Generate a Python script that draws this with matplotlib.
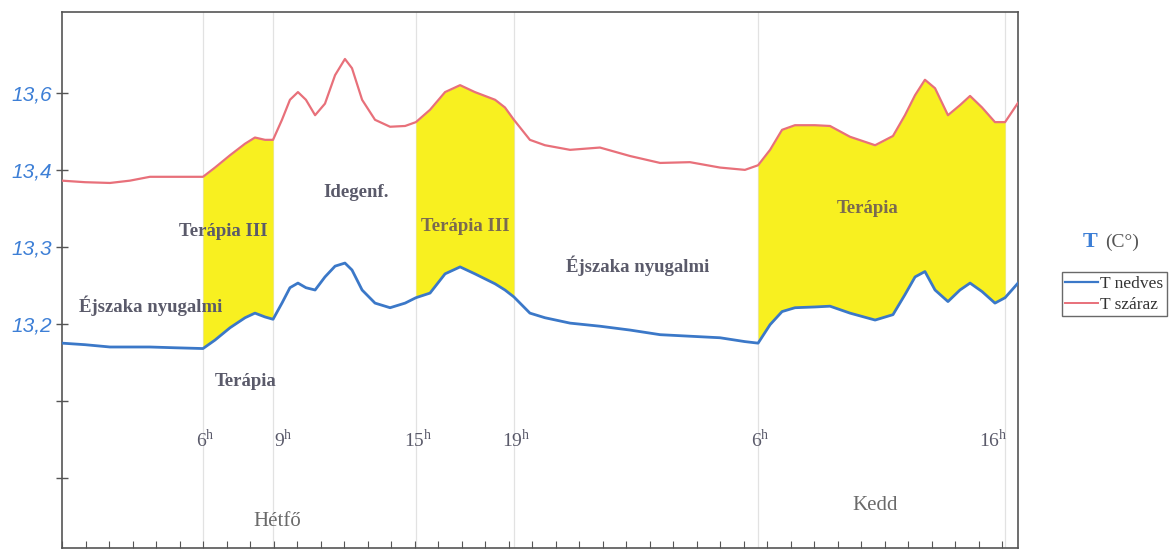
import matplotlib
matplotlib.use('Agg')
import matplotlib.pyplot as plt
import numpy as np

plt.rcParams['font.family'] = ['Liberation Serif', 'DejaVu Serif']

# idő (óra, hétfő 0h-tól) és a két hőmérséklet
ora = [0.0, 0.98, 2.04, 2.89, 3.74, 4.81, 6.0, 6.51, 7.15, 7.79, 8.21, 8.64, 8.98,
       9.36, 9.70, 10.04, 10.38, 10.77, 11.19, 11.62, 12.04, 12.34, 12.77, 13.32,
       13.96, 14.60, 15.06, 15.66, 16.30, 16.94, 17.57, 18.43, 18.85, 19.23, 19.91,
       20.55, 21.62, 22.89, 24.17, 25.45, 26.72, 28.0, 29.06, 29.62, 30.13, 30.64,
       31.19, 32.04, 32.68, 33.53, 34.60, 35.36, 35.87, 36.30, 36.72, 37.15, 37.70,
       38.21, 38.64, 39.15, 39.70, 40.13, 40.68]
t_szaraz = [13.386, 13.384, 13.383, 13.386, 13.391, 13.391, 13.391, 13.403, 13.419,
            13.434, 13.442, 13.439, 13.439, 13.465, 13.491, 13.501, 13.491, 13.471,
            13.486, 13.523, 13.544, 13.532, 13.491, 13.465, 13.456, 13.457, 13.462,
            13.478, 13.501, 13.510, 13.501, 13.491, 13.481, 13.465, 13.439, 13.432,
            13.426, 13.429, 13.418, 13.409, 13.410, 13.403, 13.400, 13.406, 13.426,
            13.452, 13.458, 13.458, 13.457, 13.443, 13.432, 13.444, 13.471, 13.497,
            13.517, 13.506, 13.471, 13.484, 13.496, 13.481, 13.462, 13.462, 13.487]
t_nedves = [13.175, 13.173, 13.170, 13.170, 13.170, 13.169, 13.168, 13.179, 13.195,
            13.208, 13.214, 13.209, 13.206, 13.227, 13.247, 13.253, 13.247, 13.244,
            13.261, 13.275, 13.279, 13.270, 13.244, 13.227, 13.221, 13.227, 13.234,
            13.240, 13.265, 13.274, 13.265, 13.252, 13.244, 13.235, 13.214, 13.208,
            13.201, 13.197, 13.192, 13.186, 13.184, 13.182, 13.177, 13.175, 13.199,
            13.216, 13.221, 13.222, 13.223, 13.214, 13.205, 13.212, 13.238, 13.261,
            13.268, 13.244, 13.229, 13.244, 13.253, 13.242, 13.227, 13.234, 13.253]

# jelölt időpontok
jel_pos = [6.0, 8.98, 15.06, 19.23, 29.62, 40.13]
jel_cimke = ['6', '9', '15', '19', '6', '16']

# terápiás szakaszok (sárga)
terapia = [(6.0, 8.98), (15.06, 19.23), (29.62, 40.13)]

y_tick = [13.0, 13.1, 13.2, 13.3, 13.4, 13.5]
y_cimke = ['', '', '13,2', '13,3', '13,4', '13,6']

ora = np.array(ora)
t_szaraz = np.array(t_szaraz)
t_nedves = np.array(t_nedves)

fig = plt.figure(figsize=(11.73, 5.51), dpi=100)
ax = fig.add_axes([62/1173, 3/551, 956/1173, 536/551])

for a, b in terapia:
    m = (ora >= a) & (ora <= b)
    ax.fill_between(ora[m], t_nedves[m], t_szaraz[m], color='#f8f020', lw=0, zorder=1)

for p in jel_pos:
    ax.axvline(p, color='#e2e2e2', lw=0.9, zorder=0.5)

ax.plot(ora, t_szaraz, color='#e8707a', lw=1.6, zorder=3)
ax.plot(ora, t_nedves, color='#3b78c8', lw=2.0, zorder=3)

ax.set_xlim(0, 40.68)
ax.set_ylim(12.909, 13.605)

ax.set_yticks(y_tick)
ax.set_yticklabels(y_cimke, color='#3d7fd6', fontsize=15, style='italic',
                   family=['Liberation Sans'])
ax.tick_params(axis='y', direction='inout', length=9, width=1, color='#555555', pad=3)
ax.set_xticks(np.arange(0, 41, 1))
ax.set_xticklabels([])
ax.tick_params(axis='x', direction='in', length=5, width=0.8, color='#555555')
for s in ax.spines.values():
    s.set_color('#555555')
    s.set_linewidth(1.2)

szin = '#5a5a6a'
for p, c in zip(jel_pos, jel_cimke):
    off = 0.35 if c in ('9',) else 0.0
    ax.text(p + off + (0.1 if c != '16' else -0.5), 13.049, c + '$^{\\mathregular{h}}$',
            ha='center', va='center', fontsize=14, color=szin)

ax.text(6.85, 13.32, 'Terápia III', ha='center', va='center', fontsize=13.5,
        weight='bold', color=szin, zorder=4)
ax.text(12.5, 13.37, 'Idegenf.', ha='center', va='center', fontsize=13.5,
        weight='bold', color=szin, zorder=4)
ax.text(17.15, 13.326, 'Terápia III', ha='center', va='center', fontsize=13.5,
        weight='bold', color='#7a6a50', zorder=4)
ax.text(3.75, 13.223, 'Éjszaka nyugalmi', ha='center', va='center', fontsize=13.5,
        weight='bold', color=szin, zorder=4)
ax.text(7.8, 13.125, 'Terápia', ha='center', va='center', fontsize=13.5,
        weight='bold', color=szin, zorder=4)
ax.text(24.5, 13.276, 'Éjszaka nyugalmi', ha='center', va='center', fontsize=13.5,
        weight='bold', color=szin, zorder=4)
ax.text(34.3, 13.35, 'Terápia', ha='center', va='center', fontsize=13.5,
        weight='bold', color='#7a6a50', zorder=4)

ax.text(9.15, 12.944, 'Hétfő', ha='center', va='center', fontsize=15, color='#6a6a6a')
ax.text(34.6, 12.964, 'Kedd', ha='center', va='center', fontsize=15, color='#6a6a6a')

fig.text(1090/1173, 1 - 242/551, 'T', ha='center', va='center', fontsize=16,
         weight='bold', color='#3d7fd6')
fig.text(1122/1173, 1 - 242/551, '(C°)', ha='center', va='center', fontsize=14,
         color='#555555')

h1, = ax.plot([], [], color='#3b78c8', lw=1.6, label='T nedves')
h2, = ax.plot([], [], color='#e8707a', lw=1.4, label='T száraz')
leg = fig.legend(handles=[h1, h2], loc='upper left',
                 bbox_to_anchor=(1062/1173, 1 - 272/551), fontsize=12.5,
                 frameon=True, fancybox=False, handlelength=1.9,
                 handletextpad=0.1, borderpad=0.2, labelspacing=0.3,
                 borderaxespad=0)
leg.get_frame().set_edgecolor('#444444')
leg.get_frame().set_linewidth(1.0)
for t in leg.get_texts():
    t.set_color('#333333')

fig.savefig('out.png', dpi=100)
